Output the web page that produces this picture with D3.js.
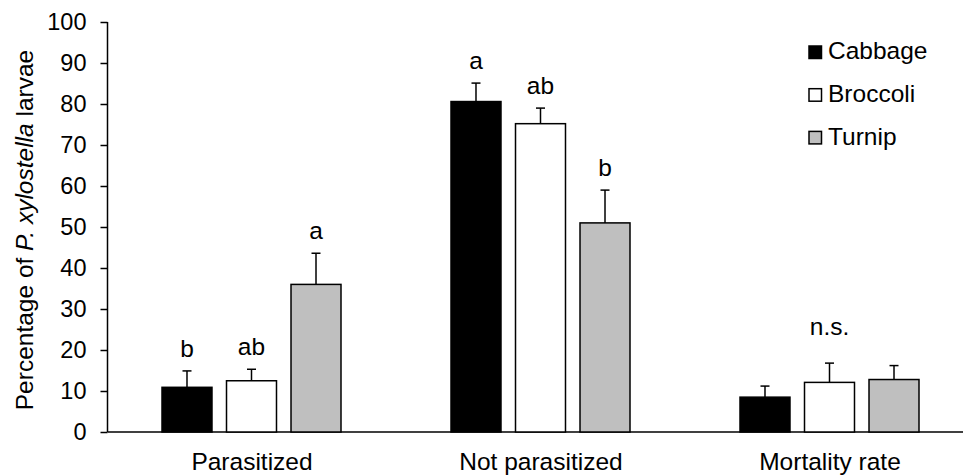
<!DOCTYPE html>
<html>
<head>
<meta charset="utf-8">
<script src="https://cdn.jsdelivr.net/npm/d3@7"></script>
<style>
  html, body { margin: 0; padding: 0; background: #fff; }
  svg { display: block; font-family: "Liberation Sans", Arial, sans-serif; }
</style>
</head>
<body>
<svg id="chart" width="963" height="476"></svg>
<script>
// ---- data ----
const categories = ["Parasitized", "Not parasitized", "Mortality rate"];
const series = ["Cabbage", "Broccoli", "Turnip"];
const cabbageMean = [10.9, 80.6, 8.5];
const broccoliMean = [12.5, 75.2, 12.1];
const turnipMean = [36.0, 51.0, 12.8];
const cabbageErr = [4.0, 4.5, 2.7];
const broccoliErr = [2.8, 3.8, 4.7];
const turnipErr = [7.6, 8.0, 3.4];
const cabbageLetters = ["b", "a", ""];
const broccoliLetters = ["ab", "ab", ""];
const turnipLetters = ["a", "b", ""];
const groupNotes = ["", "", "n.s."];
const groupNoteY = [null, null, 23.6];
const yTicks = [0, 10, 20, 30, 40, 50, 60, 70, 80, 90, 100];
const seriesColors = ["#000000", "#ffffff", "#bfbfbf"];

const means = [cabbageMean, broccoliMean, turnipMean];
const errs = [cabbageErr, broccoliErr, turnipErr];
const letters = [cabbageLetters, broccoliLetters, turnipLetters];

const rows = [];
categories.forEach((c, ci) => {
  series.forEach((s, si) => {
    rows.push({cat: c, ser: s, si, mean: means[si][ci], err: errs[si][ci], letter: letters[si][ci]});
  });
});

// ---- layout ----
const svg = d3.select("#chart");
const plotLeft = 107.5, plotBase = 432, plotTop = 22;
const y = d3.scaleLinear().domain([0, 100]).range([plotBase, plotTop]);
const x0 = d3.scaleBand().domain(categories).range([plotLeft, plotLeft + 3 * 289]);
const x1 = d3.scaleBand().domain(series).range([54.5, 233.5]).paddingInner(0.225).paddingOuter(0);
const color = d3.scaleOrdinal().domain(series).range(seriesColors);
const FS = 24.5;
const TFS = 23.5;

// y axis
const yAxis = d3.axisLeft(y).tickValues(yTicks).tickSize(7).tickSizeOuter(0).tickPadding(14);
const ya = svg.append("g").attr("transform", `translate(${plotLeft},0)`).call(yAxis);
ya.select(".domain").attr("stroke", "#000").attr("stroke-width", 1.5).attr("d", `M0,${plotTop}V${plotBase}`);
ya.selectAll(".tick line").attr("stroke", "#000").attr("stroke-width", 1.5);
ya.selectAll(".tick text").attr("font-size", TFS).attr("fill", "#000").attr("font-family", "Liberation Sans, Arial, sans-serif");

// x axis baseline
svg.append("line").attr("x1", plotLeft).attr("x2", 963).attr("y1", y(0)).attr("y2", y(0))
  .attr("stroke", "#000").attr("stroke-width", 1.5);

// category labels
svg.append("g").selectAll("text").data(categories).join("text")
  .attr("x", d => x0(d) + x0.bandwidth() / 2)
  .attr("y", 470)
  .attr("text-anchor", "middle")
  .attr("font-size", FS)
  .text(d => d);

// y title
const yt = svg.append("text")
  .attr("transform", `translate(33,${(plotTop + plotBase) / 2 + 3}) rotate(-90)`)
  .attr("text-anchor", "middle")
  .attr("font-size", FS);
yt.append("tspan").text("Percentage of ");
yt.append("tspan").attr("font-style", "italic").text("P. xylostella");
yt.append("tspan").text(" larvae");

// bars
const g = svg.append("g");
g.selectAll("rect").data(rows).join("rect")
  .attr("x", d => x0(d.cat) + x1(d.ser))
  .attr("y", d => y(d.mean))
  .attr("width", x1.bandwidth())
  .attr("height", d => y(0) - y(d.mean))
  .attr("fill", d => color(d.ser))
  .attr("stroke", "#000")
  .attr("stroke-width", 1.5);

// error bars
const eb = svg.append("g").attr("stroke", "#000").attr("stroke-width", 1.5);
rows.forEach(d => {
  const cx = x0(d.cat) + x1(d.ser) + x1.bandwidth() / 2;
  eb.append("line").attr("x1", cx).attr("x2", cx).attr("y1", y(d.mean)).attr("y2", y(d.mean + d.err));
  eb.append("line").attr("x1", cx - 4.5).attr("x2", cx + 4.5).attr("y1", y(d.mean + d.err)).attr("y2", y(d.mean + d.err));
});

// significance letters
svg.append("g").selectAll("text").data(rows.filter(d => d.letter)).join("text")
  .attr("x", d => x0(d.cat) + x1(d.ser) + x1.bandwidth() / 2)
  .attr("y", d => y(d.mean + d.err) - 14)
  .attr("text-anchor", "middle")
  .attr("font-size", FS)
  .text(d => d.letter);

// group notes
categories.forEach((c, ci) => {
  if (groupNotes[ci]) {
    svg.append("text")
      .attr("x", x0(c) + x1("Broccoli") + x1.bandwidth() / 2)
      .attr("y", y(groupNoteY[ci]))
      .attr("text-anchor", "middle")
      .attr("font-size", FS)
      .text(groupNotes[ci]);
  }
});

// legend
const lg = svg.append("g").attr("transform", "translate(809,46)");
series.forEach((s, i) => {
  const row = lg.append("g").attr("transform", `translate(0,${i * 42.7})`);
  row.append("rect").attr("x", 0).attr("y", 0).attr("width", 12.5).attr("height", 12.5)
    .attr("fill", color(s)).attr("stroke", "#000").attr("stroke-width", 1.5);
  row.append("text").attr("x", 19).attr("y", 13.2).attr("font-size", FS).text(s);
});
</script>
</body>
</html>
